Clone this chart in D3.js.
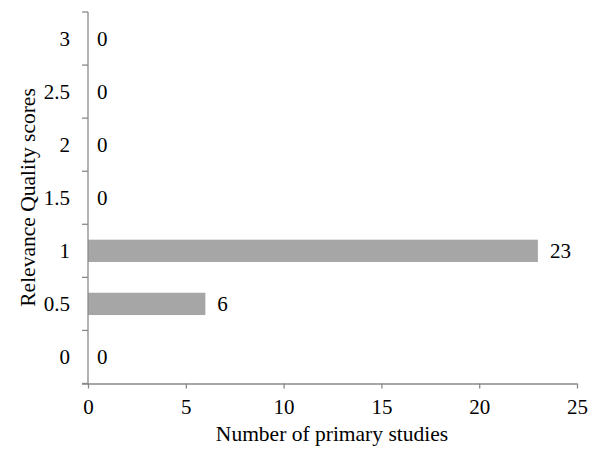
<!DOCTYPE html>
<html>
<head>
<meta charset="utf-8">
<script src="https://cdn.jsdelivr.net/npm/d3@7"></script>
<style>
  html, body { margin: 0; padding: 0; background: #fff; }
  #chart text { font-family: "Liberation Serif", "Times New Roman", Times, serif; fill: #000; }
</style>
</head>
<body>
<svg id="chart" width="590" height="450"></svg>
<script>
const categories = ["0", "0.5", "1", "1.5", "2", "2.5", "3"];
const values = [0, 6, 23, 0, 0, 0, 0];
const xTicks = [0, 5, 10, 15, 20, 25];
const xTitle = "Number of primary studies";
const yTitle = "Relevance Quality scores";

(function () {
const svg = d3.select("#chart");
const mLeft = 88, mRight = 577, mTop = 12, mBottom = 383.5;
const axisColor = "#898989";
const barColor = "#a6a6a6";
const fs = 21;

const x = d3.scaleLinear().domain([0, 25]).range([mLeft, mRight]);
const y = d3.scaleBand().domain(categories.slice().reverse()).range([mTop, mBottom]).paddingInner(0.58).paddingOuter(0.29);
const yb = d3.scaleBand().domain(categories.slice().reverse()).range([mTop, mBottom]);

// bars
svg.append("g").selectAll("rect").data(categories).join("rect")
  .attr("x", x(0))
  .attr("y", d => y(d))
  .attr("width", (d, i) => x(values[i]) - x(0))
  .attr("height", y.bandwidth())
  .attr("fill", barColor);

// x axis
const gx = svg.append("g").attr("transform", `translate(0,${mBottom})`)
  .call(d3.axisBottom(x).tickValues(xTicks).tickSize(5).tickSizeOuter(0).tickPadding(11));
gx.attr("font-family", null).attr("font-size", null);
gx.select(".domain").attr("stroke", axisColor).attr("stroke-width", 1.3)
  .attr("d", `M${mLeft - 6},0.5H${mRight}`);
gx.selectAll(".tick line").attr("stroke", axisColor).attr("stroke-width", 1.3);
gx.selectAll(".tick text").attr("font-size", fs).attr("fill", "#000");

// y axis with ticks at band boundaries
const gy = svg.append("g").attr("transform", `translate(${mLeft},0)`);
gy.append("line").attr("x1", 0).attr("x2", 0).attr("y1", mTop).attr("y2", mBottom)
  .attr("stroke", axisColor).attr("stroke-width", 1.3);
const boundaries = categories.map(c => yb(c)).concat([mBottom]);
gy.selectAll("line.tk").data(boundaries).join("line").attr("class", "tk")
  .attr("x1", -6).attr("x2", 0).attr("y1", d => d).attr("y2", d => d)
  .attr("stroke", axisColor).attr("stroke-width", 1.3);
gy.selectAll("text.lbl").data(categories).join("text").attr("class", "lbl")
  .attr("x", -18).attr("y", d => yb(d) + yb.bandwidth() / 2)
  .attr("dy", "0.35em").attr("text-anchor", "end").attr("font-size", fs)
  .text(d => d);

// value labels
svg.append("g").selectAll("text").data(categories).join("text")
  .attr("x", (d, i) => x(values[i]) + (values[i] > 0 ? 12 : 9))
  .attr("y", d => yb(d) + yb.bandwidth() / 2)
  .attr("dy", "0.35em").attr("font-size", fs)
  .text((d, i) => values[i]);

// axis titles
svg.append("text").attr("x", 332).attr("y", 441).attr("text-anchor", "middle")
  .attr("font-size", 21.5).text(xTitle);
svg.append("text").attr("transform", `translate(35,197.5) rotate(-90)`)
  .attr("text-anchor", "middle").attr("font-size", 21.5).text(yTitle);
})();
</script>
</body>
</html>
